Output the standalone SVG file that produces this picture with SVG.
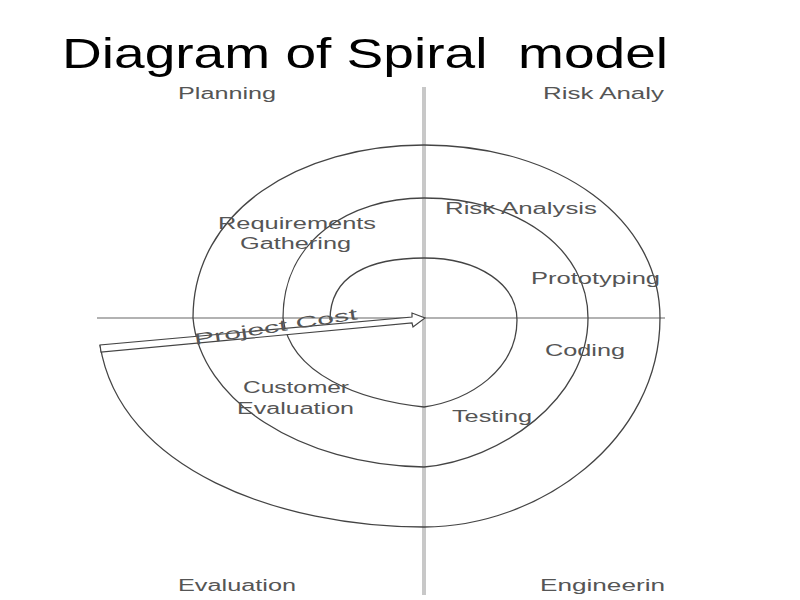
<svg xmlns="http://www.w3.org/2000/svg" width="800" height="600" viewBox="0 0 800 600">
<style>
.t{font-family:"Liberation Sans",Arial,sans-serif;font-size:16px;fill:#555}
.s{fill:none;stroke:#444;stroke-width:1.3}
.ax{stroke:#c8c8c8;stroke-width:4}
</style>
<rect width="800" height="600" fill="#fff"/>
<text x="62" y="68" font-family="Liberation Sans,Arial,sans-serif" font-size="42" fill="#000" textLength="606" lengthAdjust="spacingAndGlyphs" xml:space="preserve">Diagram of Spiral  model</text>
<g id="axes">
<line class="ax" x1="424" y1="87" x2="424" y2="595"/>
<line x1="97" y1="318" x2="665" y2="318" stroke="#999" stroke-width="1.5"/>
</g>
<g id="connectors">
<path class="s" d="M330,320 C330,275 370,258 424,258 C480,258 517,285 517,320 C517,370 470,400 424,407 C360,400 290,375 283,318 C283,240 350,198 424,198 C520,198 588,250 588,318 C588,400 500,460 424,467 C300,465 200,400 193,318 C193,210 300,145 424,145 C560,145 660,220 660,318 C660,440 540,527 424,527 C280,527 120,470 100,345"/>
<polygon points="100,345 101,352 412,323 413,327 425,318 412,313 412,317 100,345" fill="#fff" stroke="#444" stroke-width="1.2"/>
</g>
<g id="labels">
<text class="t" x="178" y="99" textLength="98" lengthAdjust="spacingAndGlyphs">Planning</text>
<text class="t" x="543" y="99" textLength="121" lengthAdjust="spacingAndGlyphs">Risk Analy</text>
<text class="t" x="178" y="591" textLength="118" lengthAdjust="spacingAndGlyphs">Evaluation</text>
<text class="t" x="540" y="591" textLength="125" lengthAdjust="spacingAndGlyphs">Engineerin</text>
<text class="t" x="218" y="229" textLength="158" lengthAdjust="spacingAndGlyphs">Requirements</text>
<text class="t" x="240" y="249" textLength="111" lengthAdjust="spacingAndGlyphs">Gathering</text>
<text class="t" x="445" y="214" textLength="152" lengthAdjust="spacingAndGlyphs">Risk Analysis</text>
<text class="t" x="531" y="284" textLength="129" lengthAdjust="spacingAndGlyphs">Prototyping</text>
<text class="t" x="545" y="356" textLength="80" lengthAdjust="spacingAndGlyphs">Coding</text>
<text class="t" x="452" y="422" textLength="80" lengthAdjust="spacingAndGlyphs">Testing</text>
<text class="t" x="243" y="393" textLength="106" lengthAdjust="spacingAndGlyphs">Customer</text>
<text class="t" x="237" y="414" textLength="117" lengthAdjust="spacingAndGlyphs">Evaluation</text>
<text class="t" x="195" y="345" transform="rotate(-9 195 345)" textLength="165" lengthAdjust="spacingAndGlyphs">Project Cost</text>
</g>
</svg>
